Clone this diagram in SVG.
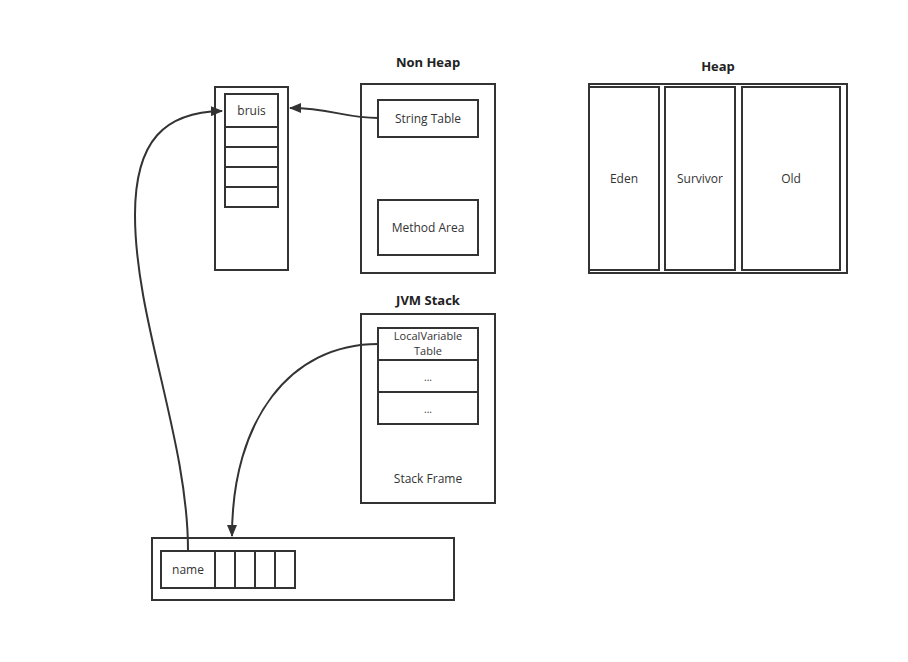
<svg xmlns="http://www.w3.org/2000/svg" width="908" height="662" viewBox="0 0 908 662">
<style>
.b{fill:#fff;stroke:#333;stroke-width:2}
.t{font-family:"Open Sans","Noto Sans","Liberation Sans",sans-serif;font-size:12px;fill:#333;text-anchor:middle}
.s{font-size:11px}
.h{font-family:"Open Sans","Noto Sans","Liberation Sans",sans-serif;font-size:13px;font-weight:bold;fill:#222;text-anchor:middle}
.c{fill:none;stroke:#333;stroke-width:2}
</style>
<defs>
<marker id="a" markerWidth="12" markerHeight="10" refX="11" refY="5" orient="auto" markerUnits="userSpaceOnUse" viewBox="0 0 12 10"><path d="M0,0L12,5L0,10Z" fill="#333"/></marker>
</defs>
<rect width="908" height="662" fill="#fff"/>
<g id="stringpool">
<rect class="b" x="215" y="87" width="73" height="183"/>
<rect class="b" x="225" y="94" width="53" height="33"/>
<text class="t" x="251.5" y="115">bruis</text>
<rect class="b" x="225" y="127" width="53" height="20"/>
<rect class="b" x="225" y="147" width="53" height="20"/>
<rect class="b" x="225" y="167" width="53" height="20"/>
<rect class="b" x="225" y="187" width="53" height="20"/>
</g>
<g id="nonheap">
<text class="h" x="428" y="67">Non Heap</text>
<rect class="b" x="361" y="84" width="134" height="189"/>
<rect class="b" x="378" y="100" width="100" height="37"/>
<text class="t" x="428" y="123">String Table</text>
<rect class="b" x="378" y="200" width="100" height="55"/>
<text class="t" x="428" y="232">Method Area</text>
</g>
<g id="heap">
<text class="h" x="718" y="71">Heap</text>
<rect class="b" x="589" y="84" width="258" height="189"/>
<rect class="b" x="589" y="87" width="70" height="183"/>
<text class="t" x="624" y="183">Eden</text>
<rect class="b" x="665" y="87" width="70" height="183"/>
<text class="t" x="700" y="183">Survivor</text>
<rect class="b" x="742" y="87" width="98" height="183"/>
<text class="t" x="791" y="183">Old</text>
</g>
<g id="jvmstack">
<text class="h" x="428" y="305">JVM Stack</text>
<rect class="b" x="361" y="314" width="134" height="189"/>
<rect class="b" x="378" y="328" width="100" height="32"/>
<text class="t s" x="428" y="340">LocalVariable</text>
<text class="t s" x="428" y="355">Table</text>
<rect class="b" x="378" y="360" width="100" height="32"/>
<text class="t" x="428" y="381" style="font-size:10px">...</text>
<rect class="b" x="378" y="392" width="100" height="32"/>
<text class="t" x="428" y="413" style="font-size:10px">...</text>
<text class="t" x="428" y="483">Stack Frame</text>
</g>
<g id="object">
<rect class="b" x="152" y="538" width="302" height="62"/>
<rect class="b" x="161" y="551" width="54" height="37"/>
<text class="t" x="188" y="574">name</text>
<rect class="b" x="215" y="551" width="20" height="37"/>
<rect class="b" x="235" y="551" width="20" height="37"/>
<rect class="b" x="255" y="551" width="20" height="37"/>
<rect class="b" x="275" y="551" width="20" height="37"/>
</g>
<g id="connectors">
<path class="c" d="M188,550 C188,440 135,320 135,215 C135,140 165,112 222,111" marker-end="url(#a)"/>
<path class="c" d="M378,118 C345,118 330,108 290,108" marker-end="url(#a)"/>
<path class="c" d="M378,344 C290,344 232,420 232,536" marker-end="url(#a)"/>
</g>
</svg>
